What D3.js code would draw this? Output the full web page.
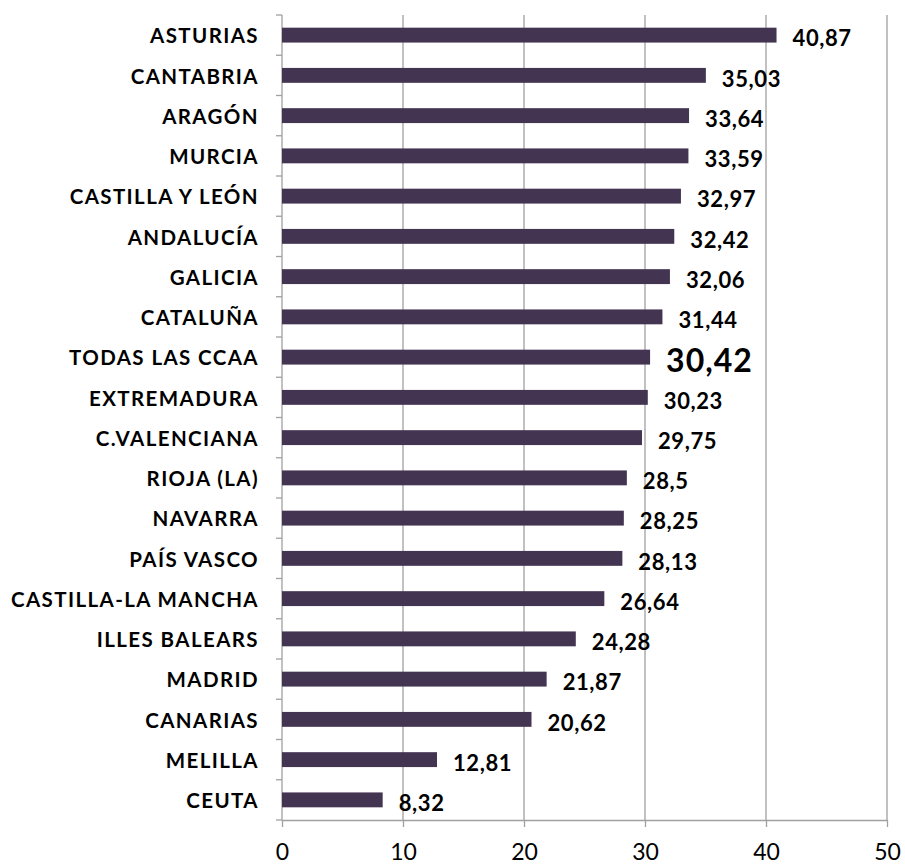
<!DOCTYPE html>
<html>
<head>
<meta charset="utf-8">
<script src="https://cdn.jsdelivr.net/npm/d3@7"></script>
<style>
  body { margin: 0; background: #fff; }
  text { font-family: Lato, "Open Sans", sans-serif; }
</style>
</head>
<body>
<svg id="chart" width="905" height="866"></svg>
<script>
// data
const regions = ["ASTURIAS", "CANTABRIA", "ARAGÓN", "MURCIA", "CASTILLA Y LEÓN", "ANDALUCÍA",
  "GALICIA", "CATALUÑA", "TODAS LAS CCAA", "EXTREMADURA", "C.VALENCIANA", "RIOJA (LA)",
  "NAVARRA", "PAÍS VASCO", "CASTILLA-LA MANCHA", "ILLES BALEARS", "MADRID", "CANARIAS",
  "MELILLA", "CEUTA"];
const values = [40.87, 35.03, 33.64, 33.59, 32.97, 32.42, 32.06, 31.44, 30.42, 30.23,
  29.75, 28.5, 28.25, 28.13, 26.64, 24.28, 21.87, 20.62, 12.81, 8.32];
const xTicks = [0, 10, 20, 30, 40, 50];
const highlight = "TODAS LAS CCAA";

let svg = d3.select("#chart"),
    mLeft = 282, mRight = 887, mTop = 15, mBottom = 820;

let x = d3.scaleLinear().domain([0, 50]).range([mLeft, mRight]);
let y = d3.scaleBand().domain(regions).range([mTop, mBottom]).paddingInner(0.63).paddingOuter(0.315);

// vertical gridlines
svg.append("g").selectAll("line")
  .data(xTicks.filter(d => d > 0))
  .enter().append("line")
  .attr("x1", d => x(d)).attr("x2", d => x(d))
  .attr("y1", mTop).attr("y2", mBottom)
  .attr("stroke", "#a0a0a0").attr("stroke-width", 1.3);

// bottom axis
let xAxis = svg.append("g")
  .attr("transform", "translate(0," + mBottom + ")")
  .call(d3.axisBottom(x).tickValues(xTicks).tickSize(7).tickSizeOuter(0).tickPadding(17)
    .tickFormat(d => d));
xAxis.selectAll("line").attr("stroke", "#a0a0a0").attr("stroke-width", 1.3);
xAxis.select(".domain").attr("stroke", "#a0a0a0").attr("stroke-width", 1.3);
xAxis.selectAll("text").attr("font-size", 23).attr("fill", "#000")
  .style("font-family", "Lato, 'Open Sans', sans-serif");

// left axis: line + ticks at band edges
let step = y.step();
svg.append("line")
  .attr("x1", mLeft).attr("x2", mLeft).attr("y1", mTop).attr("y2", mBottom)
  .attr("stroke", "#a0a0a0").attr("stroke-width", 1.3);
svg.append("g").selectAll("line")
  .data(d3.range(regions.length + 1))
  .enter().append("line")
  .attr("x1", mLeft - 6).attr("x2", mLeft)
  .attr("y1", i => mTop + i * step).attr("y2", i => mTop + i * step)
  .attr("stroke", "#a0a0a0").attr("stroke-width", 1.3);

// category labels
svg.append("g").selectAll("text")
  .data(regions)
  .enter().append("text")
  .attr("x", 259)
  .attr("y", d => y(d) + y.bandwidth() / 2 + 1)
  .attr("dy", "0.35em")
  .attr("text-anchor", "end")
  .attr("font-size", 20.5)
  .attr("font-weight", "bold")
  .attr("letter-spacing", 1.4)
  .attr("fill", "#000")
  .text(d => d);

// bars
svg.append("g").selectAll("rect")
  .data(values)
  .enter().append("rect")
  .attr("x", x(0))
  .attr("y", (d, i) => y(regions[i]))
  .attr("width", d => x(d) - x(0))
  .attr("height", y.bandwidth())
  .attr("fill", "#433452");

// value labels
svg.append("g").selectAll("text")
  .data(values)
  .enter().append("text")
  .attr("x", d => x(d) + 16)
  .attr("y", (d, i) => y(regions[i]) + y.bandwidth() / 2 + 3.5)
  .attr("dy", "0.35em")
  .attr("font-size", (d, i) => regions[i] == highlight ? 32 : 22)
  .attr("font-weight", "bold")
  .attr("letter-spacing", (d, i) => regions[i] == highlight ? 1 : 0.6)
  .attr("fill", "#000")
  .text(d => String(d).replace(".", ","));
</script>
</body>
</html>
